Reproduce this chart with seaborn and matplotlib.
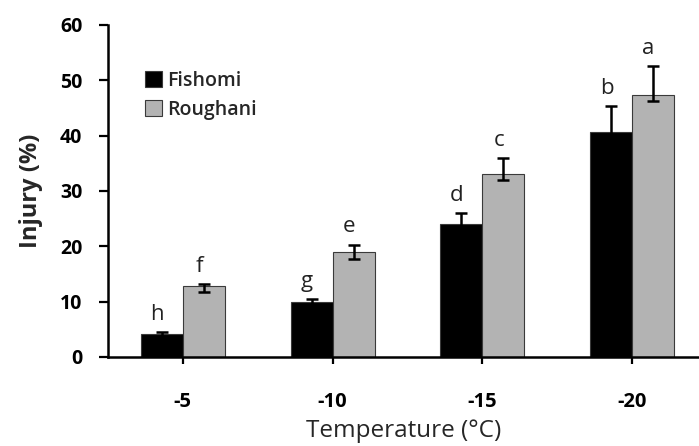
import matplotlib
matplotlib.use("Agg")
import matplotlib.pyplot as plt
import seaborn as sns
import pandas as pd

temps = ["-5", "-10", "-15", "-20"]
fishomi = [4.1, 9.9, 24.1, 40.7]
fishomi_err = [0.4, 0.6, 1.9, 4.6]
roughani = [12.8, 19.0, 33.0, 47.3]
roughani_err_low = [1.1, 1.2, 1.0, 1.1]
roughani_err_high = [0.4, 1.3, 3.0, 5.3]
letters_fishomi = ["h", "g", "d", "b"]
letters_roughani = ["f", "e", "c", "a"]
cultivars = ["Fishomi", "Roughani"]
yticks = [0, 10, 20, 30, 40, 50, 60]

df = pd.DataFrame({
    "Temperature": temps * 2,
    "Injury": fishomi + roughani,
    "Cultivar": [cultivars[0]] * 4 + [cultivars[1]] * 4,
})

sns.set_theme(style="white")
plt.rcParams["font.family"] = ["Open Sans", "DejaVu Sans"]

fig = plt.figure(figsize=(6.99, 4.46), dpi=100)
ax = fig.add_axes([108 / 699, 1 - 357 / 446, 1 - 108 / 699, (357 - 25) / 446])

sns.barplot(data=df, x="Temperature", y="Injury", hue="Cultivar", order=temps,
            hue_order=cultivars, palette=["#000000", "#b3b3b3"], width=0.56,
            errorbar=None, edgecolor="#3a3a3a", linewidth=0.8, ax=ax)

errs = [(fishomi_err, fishomi_err), (roughani_err_low, roughani_err_high)]
vals = [fishomi, roughani]
labels = [letters_fishomi, letters_roughani]
for cont, v, (lo, hi), lab in zip(ax.containers, vals, errs, labels):
    xs = [p.get_x() + p.get_width() / 2 for p in cont.patches]
    ax.errorbar(xs, v, yerr=[lo, hi], fmt="none", ecolor="black",
                elinewidth=1.8, capsize=4.5, capthick=1.8, zorder=5)
    for x, val, h, t in zip(xs, v, hi, lab):
        ax.text(x - 0.03, val + h + 1.3, t, ha="center", va="bottom",
                fontsize=16, color="#222222")

ax.set_ylim(0, 60)
ax.set_xlim(-0.5, 3.447)
ax.set_yticks(yticks)
ax.set_yticklabels([str(t) for t in yticks], fontsize=14, fontweight="bold")
ax.set_xticks(range(len(temps)))
ax.set_xticklabels(temps, fontsize=14.5, fontweight="bold")
ax.tick_params(axis="y", direction="out", length=6.5, width=1.6, pad=12,
               left=True, colors="black")
ax.tick_params(axis="x", direction="out", length=5, width=1.6, pad=20,
               bottom=True, colors="black")
for s in ["top", "right"]:
    ax.spines[s].set_visible(False)
for s in ["left", "bottom"]:
    ax.spines[s].set_color("black")
    ax.spines[s].set_linewidth(1.8)

ax.set_ylabel("Injury (%)", fontsize=17, fontweight="bold", labelpad=12)
ax.set_xlabel("Temperature (°C)", fontsize=17.5, labelpad=5)

leg = ax.legend(loc="upper left", bbox_to_anchor=(0.05, 0.885), frameon=False,
                fontsize=14, handlelength=0.85, handleheight=0.85,
                handletextpad=0.25, labelspacing=0.45, borderaxespad=0)
for t in leg.get_texts():
    t.set_fontweight("semibold")

fig.savefig("out.png", dpi=100)
